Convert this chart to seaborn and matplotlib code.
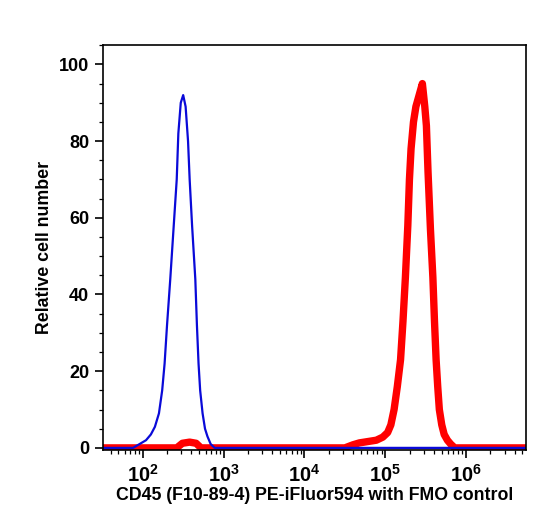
import seaborn as sns
import matplotlib.pyplot as plt
import numpy as np
import pandas as pd
from matplotlib.ticker import LogLocator, MultipleLocator, LogFormatterMathtext

# Histogram outlines (log10 of intensity, relative cell number)
blue_logx = [1.50, 1.88, 1.96, 2.04, 2.10, 2.15, 2.20, 2.24, 2.27, 2.30,
             2.34, 2.38, 2.42, 2.44, 2.47, 2.50, 2.53, 2.56, 2.58, 2.61,
             2.65, 2.67, 2.69, 2.71, 2.74, 2.77, 2.80, 2.84, 2.89, 6.75]
blue_y = [0, 0, 1, 2, 3.5, 5.5, 9, 15, 22, 32,
          44, 57, 70, 82, 90, 92, 89, 80, 70, 58,
          44, 32, 22, 15, 9, 5, 3, 1, 0, 0]

red_logx = [1.50, 2.42, 2.49, 2.58, 2.66, 2.72, 4.50, 4.60, 4.68, 4.80,
            4.89, 4.97, 5.03, 5.07, 5.11, 5.15, 5.19, 5.22, 5.25, 5.28,
            5.30, 5.32, 5.35, 5.38, 5.42, 5.46, 5.49, 5.51, 5.53, 5.56,
            5.59, 5.61, 5.63, 5.65, 5.67, 5.70, 5.73, 5.77, 5.81, 5.86,
            6.75]
red_y = [0, 0, 1.2, 1.5, 1.2, 0, 0, 0.8, 1.3, 1.7,
         2, 2.8, 4, 6, 10, 16, 23, 33, 44.5, 58,
         70, 78, 85, 89, 92, 95, 89, 84, 72, 57,
         44.5, 33, 23, 16, 10, 6, 3.5, 2, 1, 0,
         0]

blue_df = pd.DataFrame({'x': 10 ** np.array(blue_logx), 'y': blue_y})
red_df = pd.DataFrame({'x': 10 ** np.array(red_logx), 'y': red_y})

sns.set_style("ticks")
plt.rcParams['font.family'] = ['Liberation Sans', 'DejaVu Sans']
plt.rcParams['font.weight'] = 'bold'
plt.rcParams['text.color'] = 'black'
plt.rcParams['axes.labelcolor'] = 'black'
plt.rcParams['xtick.color'] = 'black'
plt.rcParams['ytick.color'] = 'black'
plt.rcParams['mathtext.fontset'] = 'custom'
plt.rcParams['mathtext.rm'] = 'Liberation Sans:bold'
plt.rcParams['mathtext.it'] = 'Liberation Sans:bold'
plt.rcParams['mathtext.bf'] = 'Liberation Sans:bold'

fig = plt.figure(figsize=(5.46, 5.2), dpi=100)
ax = fig.add_axes([0.189, 0.135, 0.774, 0.778])

sns.lineplot(data=red_df, x='x', y='y', color='#ff0000', linewidth=5.3, ax=ax, sort=False)
sns.lineplot(data=blue_df, x='x', y='y', color='#0a0ad8', linewidth=1.6, ax=ax, sort=False)

ax.set_xscale('log')
ax.set_xlim(10 ** 1.51, 10 ** 6.74)
ax.set_ylim(-0.5, 105)

ax.xaxis.set_major_locator(LogLocator(base=10, numticks=10))
ax.xaxis.set_minor_locator(LogLocator(base=10, subs=np.arange(2, 10), numticks=20))
ax.xaxis.set_major_formatter(LogFormatterMathtext())
ax.yaxis.set_major_locator(MultipleLocator(20))
ax.yaxis.set_minor_locator(MultipleLocator(5))

for s in ax.spines.values():
    s.set_linewidth(1.2)
    s.set_color('black')

ax.tick_params(axis='x', which='major', length=6, width=1.2, labelsize=14.5, pad=4)
ax.tick_params(axis='x', which='minor', length=3, width=0.9)
ax.tick_params(axis='y', which='major', length=6, width=1.2, labelsize=13, pad=4)
ax.tick_params(axis='y', which='minor', length=3, width=0.9)

ax.set_xlabel('CD45 (F10-89-4) PE-iFluor594 with FMO control', fontsize=12.8,
              fontweight='bold', labelpad=1)
ax.set_ylabel('Relative cell number', fontsize=12.8, fontweight='bold', labelpad=4)

plt.savefig('out.png', dpi=100)
